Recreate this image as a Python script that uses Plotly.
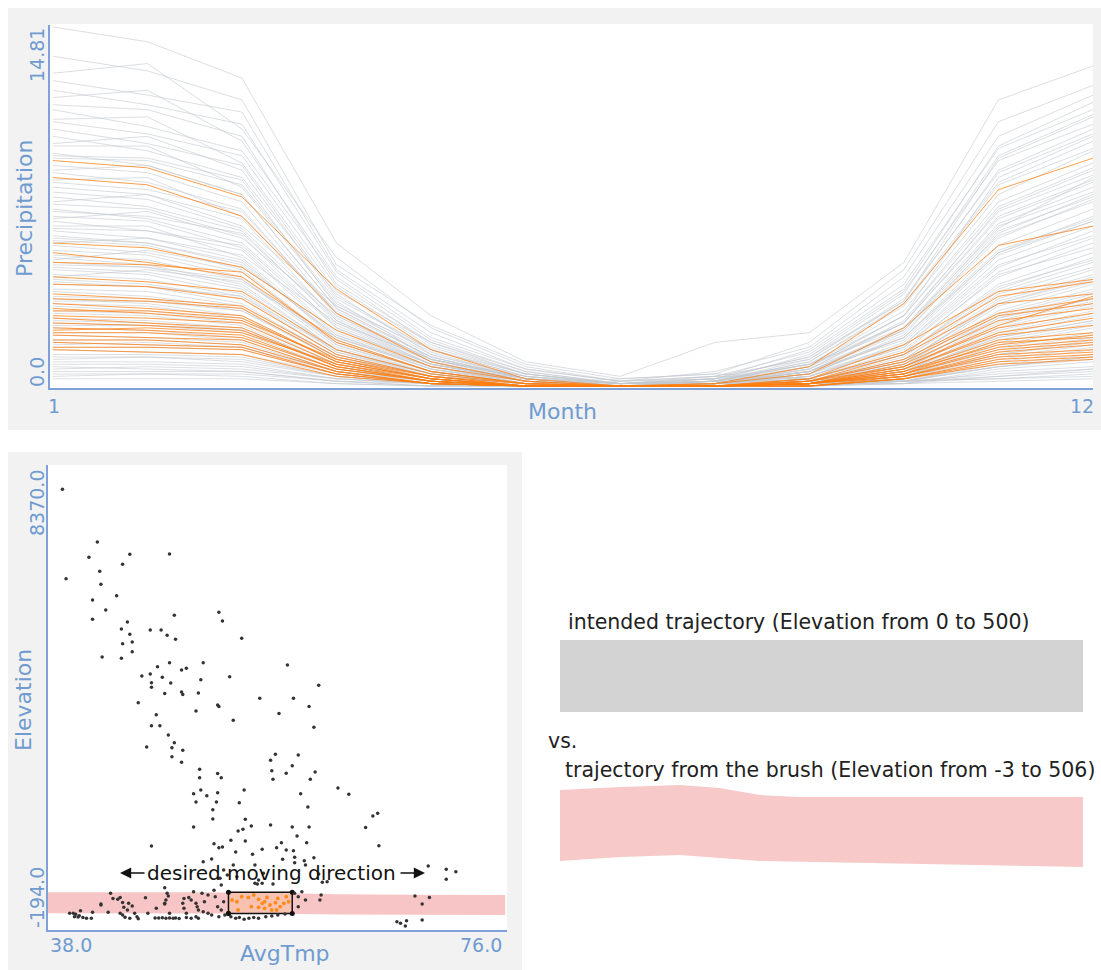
import plotly.graph_objects as go

W, H = 1101, 970
FONT = "DejaVu Sans"
AXIS_BLUE = "#6f9bd0"
AXIS_LINE = "#7fa1d8"

months = list(range(1, 13))

# Monthly precipitation per station (Jan..Dec)
wet_stations = [
    [14.81, 14.2, 12.7, 5.9, 2.9, 1.0, 0.4, 1.8, 2.2, 5.1, 11.8, 13.2],
    [13.6, 13.0, 11.8, 5.0, 2.5, 0.9, 0.3, 0.5, 1.8, 4.8, 10.9, 12.4],
    [12.9, 13.3, 10.6, 5.3, 2.4, 0.8, 0.2, 0.6, 1.6, 4.5, 10.3, 12.0],
    [12.6, 12.0, 11.3, 4.8, 2.2, 0.7, 0.2, 0.3, 1.5, 4.2, 9.8, 11.4],
    [12.2, 11.6, 10.8, 4.7, 2.0, 0.7, 0.2, 0.4, 1.4, 4.0, 9.9, 11.7],
    [11.9, 12.2, 10.1, 4.5, 1.9, 0.6, 0.1, 0.2, 1.3, 3.9, 9.3, 10.8],
    [11.6, 11.4, 10.3, 4.2, 1.8, 0.6, 0.1, 0.3, 1.2, 3.8, 9.5, 11.2],
    [11.4, 10.7, 9.7, 4.4, 1.7, 0.5, 0.1, 0.4, 1.1, 3.6, 8.8, 10.4],
    [11.0, 11.1, 9.2, 3.9, 1.8, 0.5, 0.1, 0.2, 1.0, 3.4, 8.4, 10.1],
    [10.9, 10.4, 9.5, 4.1, 1.6, 0.5, 0.1, 0.2, 1.1, 3.5, 8.9, 10.6],
    [10.6, 10.0, 9.1, 3.7, 1.5, 0.4, 0.0, 0.2, 0.9, 3.1, 7.9, 9.7],
    [10.3, 9.7, 8.6, 3.8, 1.3, 0.4, 0.1, 0.1, 0.8, 2.9, 7.4, 9.0],
    [10.0, 10.3, 8.9, 3.6, 1.5, 0.4, 0.1, 0.2, 1.0, 3.3, 8.3, 9.8],
    [9.9, 9.9, 8.2, 3.4, 1.4, 0.3, 0.0, 0.1, 0.7, 2.7, 7.2, 8.7],
    [9.6, 9.1, 7.9, 3.2, 1.2, 0.3, 0.0, 0.2, 0.8, 2.6, 6.9, 8.4],
    [9.5, 9.4, 8.5, 3.3, 1.3, 0.3, 0.0, 0.1, 0.8, 2.9, 7.6, 9.2],
    [9.4, 9.3, 8.3, 3.5, 1.1, 0.3, 0.1, 0.3, 0.9, 2.4, 6.5, 8.6],
    [9.1, 8.8, 7.6, 3.0, 1.1, 0.3, 0.0, 0.1, 0.6, 2.3, 6.6, 8.0],
    [8.9, 9.1, 7.9, 3.2, 1.2, 0.3, 0.0, 0.1, 0.7, 2.6, 7.0, 8.5],
    [8.8, 8.4, 7.3, 2.9, 1.0, 0.2, 0.0, 0.1, 0.6, 2.2, 6.1, 7.7],
    [8.5, 8.6, 7.0, 3.1, 1.2, 0.3, 0.0, 0.1, 0.5, 2.1, 6.3, 7.9],
    [8.4, 8.1, 7.2, 3.0, 1.1, 0.2, 0.0, 0.1, 0.6, 2.4, 6.7, 8.2],
    [8.2, 7.9, 6.9, 2.7, 0.9, 0.2, 0.0, 0.1, 0.5, 2.0, 5.8, 7.3],
    [8.0, 7.7, 6.5, 2.8, 1.0, 0.2, 0.0, 0.2, 0.6, 1.9, 5.5, 7.0],
    [7.6, 7.9, 6.6, 3.3, 1.5, 0.5, 0.1, 0.3, 1.2, 3.5, 9.4, 11.1],
    [6.9, 7.2, 6.1, 2.9, 1.1, 0.3, 0.0, 0.2, 0.9, 2.9, 8.6, 10.3],
]

mid_stations = [
    [7.8, 7.4, 6.4, 2.6, 0.9, 0.2, 0.0, 0.1, 0.4, 1.8, 5.4, 6.8],
    [7.5, 7.3, 6.2, 2.4, 0.8, 0.2, 0.0, 0.1, 0.5, 1.7, 5.2, 6.6],
    [7.3, 6.9, 5.9, 2.5, 0.9, 0.3, 0.1, 0.1, 0.4, 1.6, 4.9, 6.4],
    [7.2, 7.0, 6.3, 2.7, 1.0, 0.2, 0.0, 0.1, 0.6, 2.3, 6.2, 7.6],
    [7.0, 6.8, 5.7, 2.2, 0.8, 0.1, 0.0, 0.1, 0.4, 1.6, 4.7, 6.1],
    [6.8, 6.4, 5.6, 2.1, 0.7, 0.1, 0.0, 0.0, 0.3, 1.5, 4.5, 5.9],
    [6.6, 6.6, 5.3, 2.0, 0.7, 0.2, 0.0, 0.1, 0.3, 1.4, 4.6, 5.7],
    [6.5, 6.4, 5.8, 2.4, 0.9, 0.2, 0.0, 0.1, 0.5, 2.0, 5.5, 6.8],
    [6.4, 6.1, 5.2, 1.9, 0.6, 0.1, 0.0, 0.0, 0.3, 1.3, 4.2, 5.5],
    [6.2, 5.9, 5.1, 2.0, 0.7, 0.1, 0.0, 0.1, 0.3, 1.3, 4.0, 5.3],
    [6.1, 5.9, 5.0, 2.1, 0.8, 0.1, 0.0, 0.1, 0.4, 1.7, 5.0, 6.2],
    [6.0, 5.8, 4.8, 1.8, 0.6, 0.1, 0.0, 0.0, 0.2, 1.2, 3.9, 5.1],
    [5.8, 5.5, 4.7, 1.7, 0.6, 0.1, 0.0, 0.0, 0.2, 1.1, 3.8, 4.9],
    [5.6, 5.4, 4.5, 1.7, 0.5, 0.1, 0.0, 0.0, 0.2, 1.1, 3.6, 4.8],
    [5.4, 5.2, 4.4, 1.6, 0.5, 0.1, 0.0, 0.0, 0.2, 1.0, 3.5, 4.6],
    [5.3, 5.0, 4.2, 1.5, 0.5, 0.1, 0.0, 0.1, 0.2, 1.0, 3.4, 4.5],
    [5.1, 4.9, 4.1, 1.5, 0.4, 0.1, 0.0, 0.0, 0.2, 0.9, 3.3, 4.3],
    [5.0, 4.9, 4.4, 1.8, 0.6, 0.1, 0.0, 0.0, 0.3, 1.3, 4.1, 5.2],
    [4.9, 4.7, 4.0, 1.4, 0.4, 0.1, 0.0, 0.0, 0.2, 0.9, 3.1, 4.2],
    [4.8, 4.6, 3.8, 1.4, 0.5, 0.1, 0.0, 0.0, 0.1, 0.9, 3.0, 4.0],
    [4.6, 4.4, 3.7, 1.3, 0.4, 0.1, 0.0, 0.0, 0.2, 0.8, 2.9, 3.9],
    [4.4, 4.2, 3.6, 1.3, 0.4, 0.0, 0.0, 0.0, 0.1, 0.8, 2.8, 3.8],
    [4.3, 4.1, 3.7, 1.5, 0.5, 0.1, 0.0, 0.0, 0.2, 1.0, 3.4, 4.4],
    [4.2, 4.1, 3.4, 1.2, 0.4, 0.1, 0.0, 0.0, 0.1, 0.7, 2.7, 3.6],
    [4.0, 3.9, 3.3, 1.2, 0.3, 0.0, 0.0, 0.0, 0.1, 0.7, 2.6, 3.5],
    [5.9, 6.1, 5.4, 2.6, 1.1, 0.4, 0.1, 0.2, 0.9, 2.6, 7.3, 8.9],
    [5.2, 5.6, 4.9, 2.3, 0.9, 0.3, 0.1, 0.2, 0.7, 2.3, 6.4, 7.8],
    [4.5, 4.8, 4.3, 2.0, 0.8, 0.2, 0.0, 0.1, 0.6, 2.0, 5.6, 6.9],
]

dry_stations = [
    [3.9, 3.7, 3.2, 1.1, 0.3, 0.0, 0.0, 0.0, 0.1, 0.7, 2.5, 3.4],
    [3.7, 3.6, 3.1, 1.1, 0.3, 0.0, 0.0, 0.0, 0.1, 0.6, 2.4, 3.3],
    [3.6, 3.4, 2.9, 1.0, 0.3, 0.0, 0.0, 0.0, 0.1, 0.6, 2.3, 3.1],
    [3.5, 3.5, 3.1, 1.2, 0.4, 0.0, 0.0, 0.0, 0.1, 0.8, 2.8, 3.6],
    [3.4, 3.3, 2.8, 1.0, 0.3, 0.0, 0.0, 0.0, 0.1, 0.6, 2.2, 3.0],
    [3.3, 3.1, 2.7, 0.9, 0.2, 0.0, 0.0, 0.0, 0.1, 0.5, 2.1, 2.9],
    [3.1, 3.0, 2.6, 0.9, 0.2, 0.0, 0.0, 0.0, 0.1, 0.5, 2.0, 2.7],
    [3.0, 2.9, 2.5, 0.8, 0.2, 0.0, 0.0, 0.0, 0.1, 0.5, 1.9, 2.6],
    [2.8, 2.7, 2.4, 0.8, 0.2, 0.0, 0.0, 0.0, 0.1, 0.4, 1.8, 2.5],
    [2.7, 2.6, 2.3, 0.8, 0.2, 0.0, 0.0, 0.0, 0.1, 0.4, 1.7, 2.4],
    [2.6, 2.5, 2.3, 0.9, 0.3, 0.0, 0.0, 0.0, 0.1, 0.6, 2.0, 2.7],
    [2.5, 2.5, 2.2, 0.7, 0.2, 0.0, 0.0, 0.0, 0.1, 0.4, 1.6, 2.2],
    [2.4, 2.3, 2.0, 0.7, 0.2, 0.0, 0.0, 0.0, 0.1, 0.4, 1.5, 2.1],
    [2.2, 2.2, 1.9, 0.6, 0.2, 0.0, 0.0, 0.1, 0.1, 0.3, 1.4, 2.0],
    [2.1, 2.0, 1.8, 0.6, 0.1, 0.0, 0.0, 0.0, 0.1, 0.3, 1.3, 1.9],
    [1.9, 1.9, 1.7, 0.6, 0.1, 0.0, 0.0, 0.0, 0.0, 0.3, 1.2, 1.7],
    [1.8, 1.7, 1.6, 0.5, 0.1, 0.0, 0.0, 0.0, 0.0, 0.3, 1.1, 1.6],
    [1.7, 1.8, 1.6, 0.6, 0.2, 0.0, 0.0, 0.0, 0.1, 0.4, 1.3, 1.8],
    [1.6, 1.6, 1.5, 0.5, 0.1, 0.0, 0.0, 0.0, 0.0, 0.2, 1.0, 1.5],
    [1.5, 1.4, 1.3, 0.5, 0.1, 0.0, 0.0, 0.0, 0.0, 0.2, 0.9, 1.3],
    [1.3, 1.3, 1.2, 0.4, 0.1, 0.0, 0.0, 0.0, 0.0, 0.2, 0.8, 1.2],
    [1.2, 1.2, 1.1, 0.4, 0.1, 0.0, 0.0, 0.0, 0.0, 0.2, 0.8, 1.1],
    [1.1, 1.2, 1.0, 0.4, 0.1, 0.0, 0.0, 0.1, 0.1, 0.2, 0.8, 1.2],
    [1.0, 1.0, 0.9, 0.3, 0.1, 0.0, 0.0, 0.0, 0.0, 0.1, 0.7, 1.0],
    [0.9, 0.9, 0.8, 0.3, 0.1, 0.0, 0.0, 0.1, 0.1, 0.1, 0.6, 0.8],
    [0.8, 0.7, 0.6, 0.2, 0.0, 0.0, 0.0, 0.0, 0.0, 0.1, 0.4, 0.7],
    [0.7, 0.8, 0.7, 0.3, 0.1, 0.0, 0.0, 0.2, 0.2, 0.2, 0.5, 0.7],
    [0.6, 0.6, 0.6, 0.2, 0.1, 0.0, 0.1, 0.3, 0.2, 0.2, 0.4, 0.6],
    [0.5, 0.5, 0.5, 0.2, 0.0, 0.0, 0.2, 0.4, 0.3, 0.2, 0.3, 0.5],
    [0.4, 0.5, 0.4, 0.1, 0.0, 0.1, 0.3, 0.5, 0.3, 0.2, 0.3, 0.4],
    [0.3, 0.3, 0.3, 0.1, 0.0, 0.0, 0.1, 0.2, 0.1, 0.1, 0.2, 0.3],
]

# Stations whose (AvgTmp, Elevation) falls inside the brush
brushed_stations = [
    [9.3, 9.0, 7.8, 4.0, 1.5, 0.3, 0.0, 0.1, 0.8, 3.4, 8.1, 9.4],
    [8.6, 8.3, 7.0, 3.0, 1.0, 0.2, 0.0, 0.1, 0.5, 2.4, 5.8, 6.6],
    [5.9, 5.7, 4.9, 2.3, 0.8, 0.2, 0.0, 0.0, 0.3, 1.7, 3.9, 4.4],
    [5.5, 5.1, 4.5, 1.9, 0.6, 0.1, 0.0, 0.0, 0.3, 1.4, 3.7, 4.3],
    [5.1, 5.0, 4.7, 1.8, 0.6, 0.1, 0.0, 0.0, 0.2, 1.3, 3.4, 3.8],
    [4.5, 4.3, 3.9, 1.5, 0.5, 0.1, 0.0, 0.0, 0.2, 1.1, 3.0, 3.6],
    [4.2, 4.1, 3.6, 1.3, 0.4, 0.0, 0.0, 0.0, 0.2, 1.0, 2.9, 3.4],
    [3.8, 3.6, 3.3, 1.2, 0.4, 0.0, 0.0, 0.0, 0.1, 0.9, 2.7, 3.2],
    [3.6, 3.5, 3.2, 1.1, 0.3, 0.0, 0.0, 0.0, 0.1, 0.8, 2.4, 3.0],
    [3.4, 3.2, 2.9, 1.0, 0.3, 0.0, 0.0, 0.0, 0.1, 0.7, 2.2, 2.8],
    [3.2, 3.0, 2.7, 1.1, 0.4, 0.1, 0.0, 0.0, 0.2, 0.8, 2.5, 3.7],
    [3.1, 3.1, 2.8, 1.0, 0.3, 0.0, 0.0, 0.0, 0.1, 0.7, 2.1, 2.5],
    [2.9, 2.8, 2.6, 0.9, 0.2, 0.0, 0.0, 0.0, 0.1, 0.6, 1.9, 2.2],
    [2.8, 2.6, 2.4, 0.8, 0.2, 0.0, 0.0, 0.0, 0.1, 0.6, 1.7, 2.1],
    [2.6, 2.5, 2.3, 0.8, 0.2, 0.0, 0.0, 0.0, 0.1, 0.5, 1.6, 1.9],
    [2.4, 2.3, 2.1, 0.7, 0.2, 0.0, 0.0, 0.0, 0.1, 0.5, 1.5, 1.8],
    [2.3, 2.4, 2.2, 0.9, 0.3, 0.0, 0.0, 0.0, 0.1, 0.5, 1.8, 2.0],
    [2.2, 2.2, 2.0, 0.7, 0.2, 0.0, 0.0, 0.0, 0.1, 0.4, 1.4, 1.7],
    [2.1, 2.0, 1.9, 0.6, 0.1, 0.0, 0.0, 0.0, 0.1, 0.4, 1.3, 1.5],
    [1.9, 1.9, 1.7, 0.6, 0.1, 0.0, 0.0, 0.0, 0.0, 0.4, 1.2, 1.4],
    [1.8, 1.7, 1.6, 0.5, 0.1, 0.0, 0.0, 0.0, 0.0, 0.3, 1.1, 1.3],
    [1.6, 1.6, 1.5, 0.5, 0.1, 0.0, 0.0, 0.0, 0.0, 0.3, 1.0, 1.2],
    [1.5, 1.4, 1.3, 0.4, 0.1, 0.0, 0.0, 0.0, 0.0, 0.3, 0.9, 1.1],
]

# Station climate: average temperature vs elevation
avg_tmp = [
    39.2, 39.5, 42.1, 41.4, 44.8, 48.1, 44.2, 42.3, 42.4, 43.7, 41.7, 42.8, 41.7, 48.5, 52.2,
    52.5, 44.6, 44.1, 46.5, 47.4, 44.8, 47.9, 48.6, 44.2, 45.0, 45.0, 54.1, 42.5, 44.1, 48.1,
    50.9, 47.1, 49.1, 49.5, 45.8, 46.5, 47.5, 50.7, 53.1, 57.9, 46.6, 46.6, 48.2, 60.5, 47.7,
    49.1, 49.2, 50.5, 55.6, 58.4, 45.5, 52.1, 52.2, 59.7, 47.0, 50.3, 53.4, 57.2, 60.1, 46.6,
    47.3, 48.0, 46.2, 48.5, 48.3, 49.2, 48.3, 49.1, 56.9, 56.5, 58.8, 58.3, 56.6, 57.8, 56.7,
    60.2, 59.8, 50.6, 50.6, 52.1, 52.4, 54.3, 50.7, 50.1, 51.2, 52.1, 50.3, 52.0, 53.9, 59.0,
    62.1, 63.0, 59.6, 51.7, 51.7, 50.1, 54.4, 54.9, 54.2, 53.8, 56.5, 58.3, 59.7, 58.7, 65.0,
    65.4, 64.4, 65.5, 46.6, 53.2, 54.4, 51.8, 52.2, 52.5, 53.6, 55.0, 55.8, 57.0, 57.4, 57.8,
    58.4, 59.5, 51.6, 57.5, 58.5, 59.3, 60.1, 69.6, 71.1, 71.9, 71.1, 55.5, 52.4, 60.8, 47.7,
    51.8, 52.3, 53.4, 53.7, 55.2, 55.4, 55.8, 56.7, 50.9, 52.6, 52.9, 55.2, 55.9, 58.5, 59.4,
    60.5, 61.2, 39.8, 40.1, 40.3, 40.2, 40.5, 40.9, 40.7, 41.7, 42.4, 43.0, 43.2, 43.4, 44.0,
    44.0, 44.2, 44.4, 44.8, 44.7, 45.0, 44.6, 45.2, 45.4, 45.5, 46.1, 46.3, 46.9, 47.2, 47.5,
    47.8, 48.1, 48.4, 48.6, 48.9, 47.0, 47.8, 47.7, 48.0, 48.1, 49.3, 49.2, 49.3, 49.5, 49.7,
    50.1, 49.9, 50.3, 50.4, 49.5, 49.9, 50.3, 50.5, 50.8, 51.3, 51.9, 51.0, 50.5, 50.9, 51.3,
    51.6, 52.2, 52.7, 52.1, 52.4, 52.6, 53.2, 53.6, 53.9, 54.3, 54.7, 55.1, 55.5, 56.1, 56.6,
    57.1, 57.7, 58.5, 58.8, 59.1, 59.4, 58.8, 60.7, 60.6, 68.5, 69.7, 69.1, 67.0, 67.3, 67.8,
    67.7, 69.1, 42.4, 43.8, 44.2, 44.3, 47.9, 47.7, 41.2, 41.6, 40.6,
]
elevation = [
    7976, 6319, 7000, 6716, 6772, 6777, 6585, 6456, 6214, 6004, 5924, 5739, 5566, 5640, 5695,
    5535, 5516, 5386, 5368, 5368, 5288, 5268, 5194, 5114, 5145, 4966, 5213, 4866, 4842, 4761,
    4761, 4687, 4626, 4656, 4515, 4552, 4490, 4446, 4502, 4719, 4391, 4304, 4385, 4342, 4188,
    4219, 4170, 4200, 4101, 4101, 4020, 3978, 3950, 3947, 3798, 3867, 3694, 3817, 3565, 3594,
    3594, 3421, 3199, 3278, 3186, 3137, 3019, 2914, 3062, 2951, 3049, 2852, 2759, 2711, 2599,
    2735, 2599, 2784, 2629, 2709, 2629, 2402, 2402, 2333, 2296, 2352, 2179, 2179, 2167, 2333,
    2439, 2321, 2086, 2037, 1864, 1716, 1858, 1734, 1672, 1641, 1753, 1716, 1716, 1549, 1920,
    1969, 1704, 1370, 1364, 1470, 1457, 1406, 1332, 1345, 1252, 1209, 1302, 1332, 1425, 1289,
    1276, 1425, 1122, 1116, 1153, 1091, 1146, 993, 931, 887, 746, 733, 640, 690, 590,
    542, 765, 1011, 794, 671, 659, 671, 659, 1072, 918, 826, 1011, 857, 1054, 1011,
    844, 701, 116, 116, 96, 53, 45, 40, 164, 134, 270, 134, 486, 392, 410,
    116, 84, 41, 22, 301, 251, 177, 116, 53, 16, 404, 116, 30, 28, 33,
    25, 30, 22, 30, 20, 208, 362, 301, 436, 116, 392, 301, 208, 116, 410,
    516, 362, 301, 238, 40, 22, 53, 22, 486, 455, 423, 331, 177, 146, 116,
    84, 53, 84, 238, 177, 331, 53, 22, 40, 3, 22, 40, 22, 53, 66,
    84, 103, 486, 423, 516, 362, 238, 455, 362, 436, 410, 288, -40, -71, -22,
    -120, -9, 288, 374, 318, 227, 486, 288, 22, 22, 70,
]

brushed_tmp = [53.3, 53.7, 54.1, 54.65, 55.1, 55.5, 55.8, 56.0, 56.2, 56.45, 56.9,
               57.1, 57.3, 57.6, 57.8, 58.0, 55.5, 54.9, 56.0, 56.6, 57.0, 53.8]
brushed_elev = [362, 331, 423, 410, 455, 374, 301, 331, 410, 269, 312,
                392, 238, 301, 423, 331, 227, 238, 208, 177, 177, 177]

# Brush bounds
brush_tmp = [53.0, 58.3]
brush_elev = [110, 505]

# Trajectory band swept by the brush across the scatter
band_tmp = [38, 44, 50, 56, 62, 68, 76]
band_upper = [505, 510, 505, 495, 470, 460, 455]
band_lower = [116, 120, 118, 112, 95, 88, 84]

# Comparison panels (magnified)
intended_tmp = [38, 76]
intended_lower = [0, 0]
intended_upper = [500, 500]

traj_tmp = [38, 42.4, 46.7, 49.6, 52.5, 55.4, 62.7, 76]
traj_upper = [501, 522, 536, 515, 466, 453, 453, 453]
traj_lower = [9, 36, 50, 29, 9, 2, -12, -33]

precip_ticks = ["0.0", "14.81"]
month_ticks = ["1", "12"]
elev_ticks = ["-194.0", "8370.0"]
tmp_ticks = ["38.0", "76.0"]


def fx(px):
    return px / W


def fy(py):
    return 1 - py / H


fig = go.Figure()

# Precipitation lines: all stations in gray, brushed stations in orange on top
for row in wet_stations + mid_stations + dry_stations:
    fig.add_trace(go.Scatter(x=months, y=row, mode="lines", xaxis="x", yaxis="y",
                             line=dict(color="rgba(195,200,206,0.6)", width=1),
                             hoverinfo="skip", showlegend=False))
for row in brushed_stations:
    fig.add_trace(go.Scatter(x=months, y=row, mode="lines", xaxis="x", yaxis="y",
                             line=dict(color="rgba(255,125,15,0.75)", width=1),
                             hoverinfo="skip", showlegend=False))

# Brush trajectory band in the scatter
fig.add_trace(go.Scatter(x=band_tmp + band_tmp[::-1], y=band_upper + band_lower[::-1],
                         mode="lines", fill="toself", fillcolor="#f7c5c5",
                         line=dict(width=0), xaxis="x2", yaxis="y2",
                         hoverinfo="skip", showlegend=False))

# Brush rectangle with corner handles
bx = [brush_tmp[0], brush_tmp[1], brush_tmp[1], brush_tmp[0], brush_tmp[0]]
by = [brush_elev[0], brush_elev[0], brush_elev[1], brush_elev[1], brush_elev[0]]
fig.add_trace(go.Scatter(x=bx, y=by, mode="lines+markers", fill="toself",
                         fillcolor="rgba(255,190,130,0.3)",
                         line=dict(color="#111111", width=1.5),
                         marker=dict(color="#111111", size=5),
                         xaxis="x2", yaxis="y2", hoverinfo="skip", showlegend=False))

# Station points
fig.add_trace(go.Scatter(x=avg_tmp, y=elevation, mode="markers", xaxis="x2", yaxis="y2",
                         marker=dict(color="#333333", size=3.5),
                         hoverinfo="skip", showlegend=False))
fig.add_trace(go.Scatter(x=brushed_tmp, y=brushed_elev, mode="markers", xaxis="x2", yaxis="y2",
                         marker=dict(color="#ff8a1c", size=3.8),
                         hoverinfo="skip", showlegend=False))

# Intended vs brushed trajectory
fig.add_trace(go.Scatter(x=intended_tmp + intended_tmp[::-1],
                         y=intended_upper + intended_lower[::-1],
                         mode="lines", fill="toself", fillcolor="#d3d3d3",
                         line=dict(width=0), xaxis="x3", yaxis="y3",
                         hoverinfo="skip", showlegend=False))
fig.add_trace(go.Scatter(x=traj_tmp + traj_tmp[::-1], y=traj_upper + traj_lower[::-1],
                         mode="lines", fill="toself", fillcolor="#f7c9c9",
                         line=dict(width=0), xaxis="x4", yaxis="y4",
                         hoverinfo="skip", showlegend=False))

axis_common = dict(showgrid=False, zeroline=False, showticklabels=False, ticks="")
hidden = dict(visible=False, showgrid=False, zeroline=False)

shapes = [
    # gray panel frames with white plotting areas
    dict(type="rect", xref="paper", yref="paper", x0=fx(8), x1=fx(1101), y0=fy(430), y1=fy(8),
         fillcolor="#f2f2f2", line=dict(width=0), layer="below"),
    dict(type="rect", xref="paper", yref="paper", x0=fx(50), x1=fx(1093), y0=fy(388), y1=fy(24),
         fillcolor="white", line=dict(width=0), layer="below"),
    dict(type="rect", xref="paper", yref="paper", x0=fx(8), x1=fx(522), y0=fy(970), y1=fy(452),
         fillcolor="#f2f2f2", line=dict(width=0), layer="below"),
    dict(type="rect", xref="paper", yref="paper", x0=fx(48), x1=fx(507), y0=fy(930), y1=fy(465),
         fillcolor="white", line=dict(width=0), layer="below"),
]


def label(text, x, y, size=19, angle=0, color=AXIS_BLUE, anchor="center"):
    return dict(text=text, xref="paper", yref="paper", x=fx(x), y=fy(y),
                xanchor=anchor, yanchor="middle", showarrow=False, textangle=angle,
                font=dict(family=FONT, size=size, color=color))


annotations = [
    # precipitation chart
    label(precip_ticks[1], 37, 55, angle=-90),
    label(precip_ticks[0], 37, 372, angle=-90),
    label("Precipitation", 24, 208, size=22, angle=-90),
    label(month_ticks[0], 54, 406),
    label(month_ticks[1], 1082, 406),
    label("Month", 562, 411, size=22),
    # scatter
    label(elev_ticks[1], 37, 503, angle=-90),
    label(elev_ticks[0], 37, 897, angle=-90),
    label("Elevation", 23, 700, size=22, angle=-90),
    label(tmp_ticks[0], 71, 945),
    label(tmp_ticks[1], 481, 945),
    label("AvgTmp", 285, 953, size=22),
    label("desired moving direction", 271, 873, size=20, color="#111111"),
    # comparison texts
    label("intended trajectory (Elevation from 0 to 500)", 566, 622, size=20.5,
          color="#222222", anchor="left"),
    label("vs.", 546, 741, size=20.5, color="#222222", anchor="left"),
    label("trajectory from the brush (Elevation from -3 to 506)", 563, 770, size=20.5,
          color="#222222", anchor="left"),
    # direction arrows
    dict(text="", xref="paper", yref="paper", x=fx(120), y=fy(873), ax=26, ay=0,
         showarrow=True, arrowhead=2, arrowsize=1.4, arrowwidth=1.6, arrowcolor="#111111"),
    dict(text="", xref="paper", yref="paper", x=fx(425), y=fy(873), ax=-26, ay=0,
         showarrow=True, arrowhead=2, arrowsize=1.4, arrowwidth=1.6, arrowcolor="#111111"),
]

fig.update_layout(
    width=W, height=H,
    margin=dict(l=0, r=0, t=0, b=0),
    paper_bgcolor="white", plot_bgcolor="rgba(0,0,0,0)",
    showlegend=False,
    xaxis=dict(domain=[fx(50), fx(1093)], range=[0.97, 12.0], showline=True,
               linecolor=AXIS_LINE, linewidth=1.5, anchor="y", **axis_common),
    yaxis=dict(domain=[fy(388), fy(25)], range=[-0.08, 14.89], showline=True,
               linecolor=AXIS_LINE, linewidth=1.5, anchor="x", **axis_common),
    xaxis2=dict(domain=[fx(48), fx(507)], range=[38, 76.15], showline=True,
                linecolor=AXIS_LINE, linewidth=1.5, anchor="y2", **axis_common),
    yaxis2=dict(domain=[fy(930), fy(465)], range=[-194, 8425.6], showline=True,
                linecolor=AXIS_LINE, linewidth=1.5, anchor="x2", **axis_common),
    xaxis3=dict(domain=[fx(560), fx(1083)], range=[38, 76], anchor="y3", **hidden),
    yaxis3=dict(domain=[fy(712), fy(640)], range=[0, 500], anchor="x3", **hidden),
    xaxis4=dict(domain=[fx(560), fx(1083)], range=[38, 76], anchor="y4", **hidden),
    yaxis4=dict(domain=[fy(868), fy(784)], range=[-40, 543], anchor="x4", **hidden),
    shapes=shapes,
    annotations=annotations,
)

fig.write_html("out.html")
